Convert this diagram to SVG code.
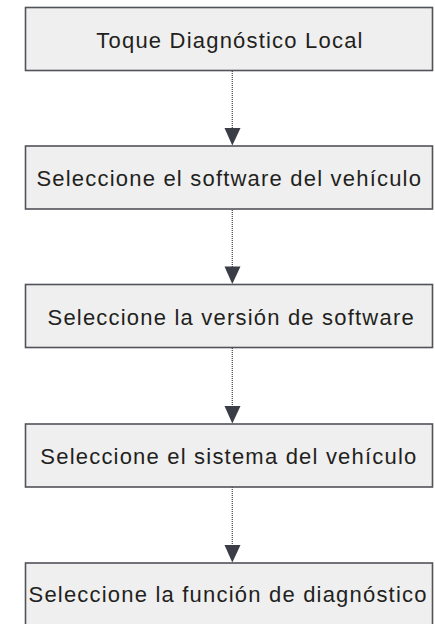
<svg xmlns="http://www.w3.org/2000/svg" width="435" height="624" viewBox="0 0 435 624">
  <style>
    .box { fill: #efefef; stroke: #50535a; stroke-width: 1.6; }
    .lbl { font-family: "Liberation Sans", Arial, sans-serif; font-size: 22px; letter-spacing: 1.2px; fill: #231f20; text-anchor: middle; }
    .dot { stroke: #4a4d55; stroke-width: 1.3; stroke-dasharray: 1 1; fill: none; }
    .head { fill: #3a3d45; }
  </style>
  <rect width="435" height="624" fill="#ffffff"/>
  <g id="connectors">
    <line class="dot" x1="232.3" y1="71" x2="232.3" y2="130"/>
    <polygon class="head" points="224.5,128 240.5,128 232.3,145.5"/>
    <line class="dot" x1="232.3" y1="210" x2="232.3" y2="268"/>
    <polygon class="head" points="224.5,266.5 240.5,266.5 232.3,284"/>
    <line class="dot" x1="232.3" y1="348" x2="232.3" y2="408"/>
    <polygon class="head" points="224.5,406 240.5,406 232.3,423.5"/>
    <line class="dot" x1="232.3" y1="487" x2="232.3" y2="547"/>
    <polygon class="head" points="224.5,545 240.5,545 232.3,562.5"/>
  </g>
  <g id="n1">
    <rect class="box" x="25.5" y="7.5" width="407" height="63"/>
    <text class="lbl" x="230" y="47.7">Toque Diagnóstico Local</text>
  </g>
  <g id="n2">
    <rect class="box" x="25.5" y="146" width="407" height="63"/>
    <text class="lbl" x="229.3" y="185.7">Seleccione el software del vehículo</text>
  </g>
  <g id="n3">
    <rect class="box" x="25.5" y="284.5" width="407" height="63"/>
    <text class="lbl" x="231.2" y="325">Seleccione la versión de software</text>
  </g>
  <g id="n4">
    <rect class="box" x="25.5" y="424" width="407" height="63"/>
    <text class="lbl" x="228.9" y="463.5">Seleccione el sistema del vehículo</text>
  </g>
  <g id="n5">
    <rect class="box" x="25.5" y="563" width="407" height="70"/>
    <text class="lbl" x="228.1" y="601.7">Seleccione la función de diagnóstico</text>
  </g>
</svg>
